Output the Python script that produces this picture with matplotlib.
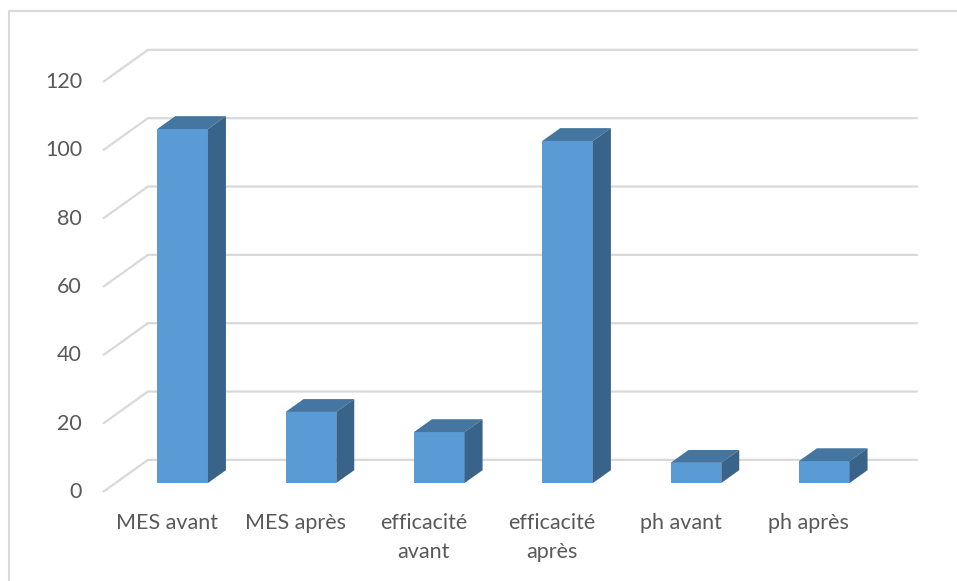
import matplotlib.pyplot as plt
from matplotlib.patches import Polygon

# data
categories = ["MES avant", "MES après", "efficacité\navant", "efficacité\naprès",
              "ph avant", "ph après"]
values = [103.6, 20.8, 14.9, 100.1, 5.9, 6.4]
yticks = [0, 20, 40, 60, 80, 100, 120]

# oblique 3D look: depth of the floor in data units
DX, DY = 0.35, 9.4
BAR_W = 0.395
BAR_OFF = 0.325       # left edge of a bar inside its category slot
F0, D = 0.28, 0.40    # bar front position and bar depth (fractions of floor depth)

FRONT = '#5B9BD5'
TOP = '#4575A1'
SIDE = '#3A6389'
GRID = '#D9D9D9'
TXT = '#595959'

plt.rcParams['font.family'] = ['Lato', 'DejaVu Sans']

fig = plt.figure(figsize=(9.57, 5.81), dpi=100)
ax = fig.add_axes([0, 0, 1, 1])
ax.set_xlim(-0.8026, 6.655)
ax.set_ylim(-26.05, 143.99)
ax.axis('off')

# chart frame (only top and left edges fall inside the image)
ax.plot([0.0094, 0.0094, 1.0], [0.0, 0.981, 0.981], transform=ax.transAxes,
        color=GRID, lw=1.5, clip_on=False)

# gridlines: short diagonal on the side wall, then along the back wall
n = len(categories)
for v in yticks:
    ax.plot([0, DX, n + DX], [v, v + DY, v + DY], color=GRID, lw=1.6,
            zorder=1, solid_capstyle='butt')
    ax.text(-0.164, v, str(v), ha='right', va='center', fontsize=15.5, color=TXT)

# bars: front faces with ax.bar, top and side faces as polygons
x0 = [i + BAR_OFF + F0 * DX for i in range(n)]
y0 = F0 * DY
ax.bar(x0, values, width=BAR_W, bottom=y0, align='edge', color=FRONT, zorder=3)
ddx, ddy = D * DX, D * DY
for x, v in zip(x0, values):
    top = [(x, y0 + v), (x + BAR_W, y0 + v),
           (x + BAR_W + ddx, y0 + v + ddy), (x + ddx, y0 + v + ddy)]
    side = [(x + BAR_W, y0), (x + BAR_W, y0 + v),
            (x + BAR_W + ddx, y0 + v + ddy), (x + BAR_W + ddx, y0 + ddy)]
    ax.add_patch(Polygon(top, closed=True, facecolor=TOP, edgecolor='none', zorder=3))
    ax.add_patch(Polygon(side, closed=True, facecolor=SIDE, edgecolor='none', zorder=3))

# category labels along the front edge of the floor
for i, cat in enumerate(categories):
    ax.text(i + 0.5, -6.1, cat, ha='center', va='top', fontsize=15.5,
            color=TXT, linespacing=1.6)

fig.savefig('out.png', dpi=100)
